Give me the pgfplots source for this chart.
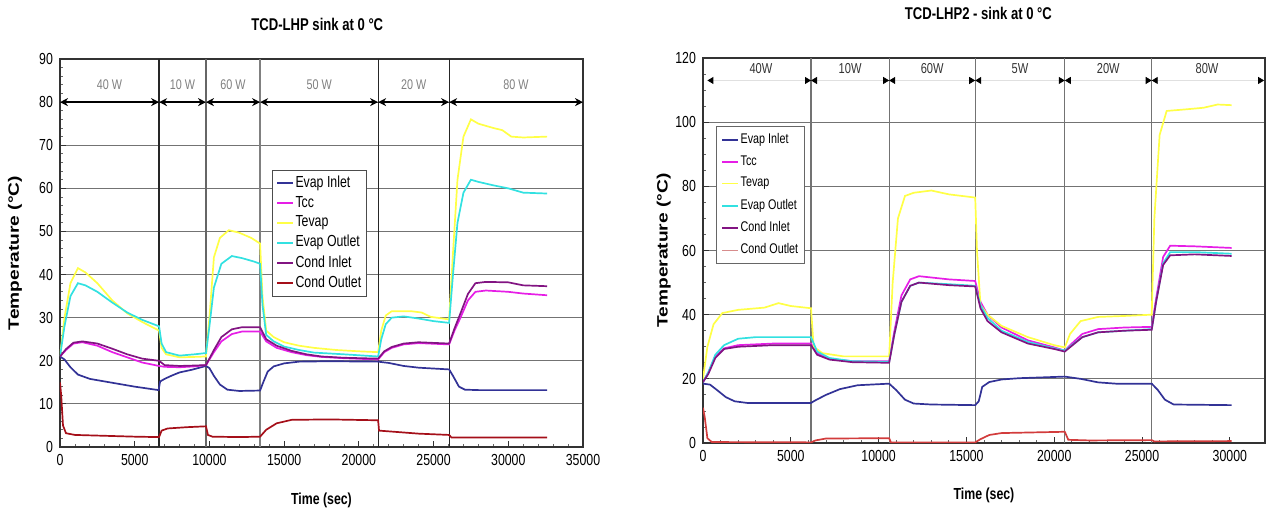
\documentclass[border=0pt]{standalone}
\usepackage{pgfplots}
\pgfplotsset{compat=1.18}
\usepackage{graphicx}
\usepackage{fontspec}
\setmainfont{Liberation Sans}
\usetikzlibrary{arrows.meta}
\newcommand{\cx}[1]{\scalebox{0.77}[1]{#1}}
\definecolor{cEI}{RGB}{50,50,150}
\definecolor{cTcc}{RGB}{230,30,230}
\definecolor{cTev}{RGB}{255,255,70}
\definecolor{cEO}{RGB}{50,225,225}
\definecolor{cCI}{RGB}{130,20,130}
\definecolor{cCO}{RGB}{165,15,25}
\definecolor{cCOb}{RGB}{210,60,60}
\definecolor{cCOleg}{RGB}{215,140,140}

\pgfplotsset{
  every axis title shift=0pt,
  common/.style={
    scale only axis,
    tick align=inside, tick pos=left,
    xmin=0, ymin=0,
    scaled x ticks=false, scaled y ticks=false,
    /pgf/number format/assume math mode=true,
    /pgf/number format/1000 sep={},
    xticklabel={\cx{\pgfmathprintnumber{\tick}}},
    yticklabel={\cx{\pgfmathprintnumber{\tick}}},
    tick label style={font=\fontsize{8}{9}\selectfont},
    ymajorgrids, major grid style={black!55, line width=0.6pt},
    minor x tick num=4,
    major tick length=3pt, minor tick length=1.5pt,
    every tick/.style={black!80, line width=0.5pt},
    every minor tick/.style={black!60, line width=0.4pt},
    axis line style={black!80, line width=0.6pt},
    every axis plot/.append style={line width=0.85pt},
    legend cell align=left,
    legend image code/.code={\draw[#1] (0pt,0pt) -- (8pt,0pt);},
    xlabel style={font=\bfseries\fontsize{8}{9}\selectfont},
    ylabel style={font=\bfseries\fontsize{7.5}{9}\selectfont},
    title style={font=\bfseries\fontsize{8.5}{10}\selectfont},
  }
}

\begin{document}
\begin{tikzpicture}
\useasboundingbox (0,0) rectangle (635pt,255.5pt);

% ---------------- LEFT CHART ----------------
\begin{axis}[common,
  at={(30pt,32pt)}, anchor=south west,
  width=261.5pt, height=194pt,
  xmax=35000, ymax=90,
  xtick={0,5000,...,35000}, ytick={0,10,...,90},
  minor y tick num=4,
  xlabel={\cx{Time (sec)}},
  xlabel style={at={(axis description cs:0.5,-0.137)}, anchor=center},
  ylabel={\scalebox{1.28}[1]{Temperature (°C)}},
  ylabel style={at={(axis description cs:-0.086,0.5)}, anchor=center},
  title={\cx{TCD-LHP sink at 0 °C}},
  title style={at={(axis description cs:0.492,1.09)}, anchor=center},
  legend style={at={(0.405,0.714)}, anchor=north west, draw=black!70, line width=0.4pt,
    font=\fontsize{8}{9}\selectfont, row sep=1.2pt, inner sep=2pt,
    nodes={inner sep=0.8pt}},
]
\draw[black!85, line width=0.6pt] (axis cs:6630,0) -- (axis cs:6630,90);
\draw[black!60, line width=0.6pt] (axis cs:9770,0) -- (axis cs:9770,90);
\draw[black!50, line width=0.6pt] (axis cs:13390,0) -- (axis cs:13390,90);
\draw[black!85, line width=0.6pt] (axis cs:21290,0) -- (axis cs:21290,90);
\draw[black!85, line width=0.6pt] (axis cs:26040,0) -- (axis cs:26040,90);

\addplot[cEI] coordinates {(0,21)(300,20.3)(700,18.5)(1200,16.8)(2000,15.8)(3000,15.2)(4000,14.6)(5000,14.0)(6000,13.5)(6600,13.2)(6700,15.2)(7000,15.8)(7500,16.6)(8000,17.3)(8800,17.9)(9770,18.8)(10000,18.3)(10300,16.5)(10700,14.5)(11200,13.3)(12000,13.0)(13390,13.1)(13600,15)(13900,17.5)(14300,18.7)(15000,19.4)(16000,19.8)(18000,19.9)(21290,19.8)(22000,19.5)(23000,18.8)(24000,18.4)(26040,18.0)(26300,16.5)(26700,14)(27100,13.3)(28000,13.2)(32600,13.2)};
\addlegendentry{\cx{Evap Inlet}}
\addplot[cTcc] coordinates {(0,21)(400,22.5)(900,24)(1500,24.3)(2500,23.5)(3500,22)(4500,20.8)(5500,19.6)(6630,18.8)(7000,18.6)(8000,18.5)(9000,18.7)(9770,19)(10300,22)(10800,24.5)(11500,26.2)(12200,26.8)(13390,26.8)(13800,24.5)(14500,23)(15500,22)(16500,21.3)(17500,20.9)(19000,20.6)(21290,20.3)(21700,22)(22200,23)(23000,23.8)(24000,24.1)(26040,23.8)(26400,27)(26800,30)(27300,34)(27800,36)(28500,36.3)(30000,36)(31000,35.6)(32600,35.2)};
\addlegendentry{\cx{Tcc}}
\addplot[cTev] coordinates {(0,21)(300,30)(700,38)(1200,41.5)(1700,40.5)(2500,38)(3500,34)(4500,31)(5500,29)(6630,27)(6800,23)(7100,21.5)(8000,20.8)(9000,20.9)(9770,21)(10000,30)(10300,44)(10700,48.5)(11300,50.3)(12000,49.7)(12800,48.5)(13390,47.2)(13550,35)(13800,27)(14300,25.5)(15000,24.3)(16000,23.5)(17000,23)(18500,22.5)(20000,22.2)(21290,22)(21500,27)(21800,30.5)(22200,31.5)(23500,31.5)(24200,31.2)(24800,30.2)(26040,29.6)(26300,45)(26600,62)(27000,72)(27500,76)(28000,75)(29000,74)(29600,73.5)(30200,72)(31000,71.8)(32600,72)};
\addlegendentry{\cx{Tevap}}
\addplot[cEO] coordinates {(0,21)(300,28)(700,35)(1200,38)(1700,37.5)(2500,36)(3500,33.5)(4500,31.2)(5500,29.5)(6630,28)(6800,24)(7100,22)(8000,21.2)(9000,21.5)(9770,21.8)(10000,28)(10300,37)(10800,42.5)(11500,44.3)(12200,43.8)(13000,43)(13390,42.5)(13550,33)(13800,26)(14300,24.5)(15000,23.3)(16000,22.5)(17000,21.9)(19000,21.5)(21290,21)(21500,25)(21800,28.5)(22200,30)(23000,30.3)(24000,29.8)(25000,29.2)(26040,28.8)(26300,40)(26600,52)(27000,59)(27500,62)(28000,61.5)(29000,60.7)(30000,60)(31000,59)(32600,58.8)};
\addlegendentry{\cx{Evap Outlet}}
\addplot[cCI] coordinates {(0,21)(400,22.7)(900,24.2)(1500,24.5)(2500,24)(3500,22.8)(4500,21.5)(5500,20.5)(6630,20)(7000,19)(8000,18.8)(9000,18.9)(9770,19)(10300,22.5)(10800,25.5)(11500,27.3)(12200,27.8)(13390,27.8)(13800,25)(14500,23.5)(15500,22.3)(16500,21.5)(17500,21)(19000,20.7)(21290,20.5)(21700,22.2)(22200,23.2)(23000,24)(24000,24.3)(26040,24)(26400,27.5)(26800,31)(27300,35.5)(27800,38)(28500,38.3)(30000,38.2)(31000,37.5)(32600,37.3)};
\addlegendentry{\cx{Cond Inlet}}
\addplot[cCO] coordinates {(0,15)(80,12)(200,5)(400,3.2)(1000,2.8)(3000,2.6)(5000,2.4)(6630,2.3)(6800,3.8)(7200,4.3)(8500,4.6)(9770,4.8)(9900,2.8)(10200,2.4)(12000,2.3)(13390,2.4)(13800,4)(14500,5.5)(15500,6.3)(18000,6.4)(21290,6.2)(21350,3.8)(22500,3.5)(24000,3.1)(26040,2.8)(26200,2.2)(32600,2.2)};
\addlegendentry{\cx{Cond Outlet}}

\draw[{Stealth[length=4pt,width=4pt]}-{Stealth[length=4pt,width=4pt]}, line width=1.3pt] (axis cs:0,80) -- (axis cs:6630,80);
\draw[{Stealth[length=4pt,width=4pt]}-{Stealth[length=4pt,width=4pt]}, line width=1.3pt] (axis cs:6630,80) -- (axis cs:9770,80);
\draw[{Stealth[length=4pt,width=4pt]}-{Stealth[length=4pt,width=4pt]}, line width=1.3pt] (axis cs:9770,80) -- (axis cs:13390,80);
\draw[{Stealth[length=4pt,width=4pt]}-{Stealth[length=4pt,width=4pt]}, line width=1.3pt] (axis cs:13390,80) -- (axis cs:21290,80);
\draw[{Stealth[length=4pt,width=4pt]}-{Stealth[length=4pt,width=4pt]}, line width=1.3pt] (axis cs:21290,80) -- (axis cs:26040,80);
\draw[{Stealth[length=4pt,width=4pt]}-{Stealth[length=4pt,width=4pt]}, line width=1.3pt] (axis cs:26040,80) -- (axis cs:35000,80);
\node[text=black!50, font=\fontsize{7}{8}\selectfont] at (axis cs:3315,84) {\cx{40 W}};
\node[text=black!50, font=\fontsize{7}{8}\selectfont] at (axis cs:8200,84) {\cx{10 W}};
\node[text=black!50, font=\fontsize{7}{8}\selectfont] at (axis cs:11580,84) {\cx{60 W}};
\node[text=black!50, font=\fontsize{7}{8}\selectfont] at (axis cs:17340,84) {\cx{50 W}};
\node[text=black!50, font=\fontsize{7}{8}\selectfont] at (axis cs:23665,84) {\cx{20 W}};
\node[text=black!50, font=\fontsize{7}{8}\selectfont] at (axis cs:30520,84) {\cx{80 W}};
\end{axis}

% ---------------- RIGHT CHART ----------------
\begin{axis}[common,
  at={(351.5pt,34pt)}, anchor=south west,
  width=281pt, height=192.5pt,
  xmax=32000, ymax=120,
  xtick={0,5000,...,30000}, ytick={0,20,...,120},
  minor y tick num=3,
  xlabel={\cx{Time (sec)}},
  xlabel style={at={(axis description cs:0.5,-0.135)}, anchor=center},
  ylabel={\scalebox{1.28}[1]{Temperature (°C)}},
  ylabel style={at={(axis description cs:-0.07,0.5)}, anchor=center},
  title={\cx{TCD-LHP2 - sink at 0 °C}},
  title style={at={(axis description cs:0.49,1.115)}, anchor=center},
  legend style={at={(0.023,0.823)}, anchor=north west, draw=black!60, line width=0.4pt,
    font=\fontsize{7}{8}\selectfont, row sep=3pt, inner sep=2.5pt,
    nodes={inner sep=0.8pt}},
]
\draw[black!55, line width=0.6pt] (axis cs:6150,0) -- (axis cs:6150,120);
\draw[black!55, line width=0.6pt] (axis cs:10600,0) -- (axis cs:10600,120);
\draw[black!55, line width=0.6pt] (axis cs:15500,0) -- (axis cs:15500,120);
\draw[black!55, line width=0.6pt] (axis cs:20600,0) -- (axis cs:20600,120);
\draw[black!55, line width=0.6pt] (axis cs:25550,0) -- (axis cs:25550,120);

\addplot[cEI] coordinates {(0,18.5)(400,18.2)(800,16.5)(1300,14.3)(1800,13)(2500,12.5)(6150,12.5)(6400,13.3)(7000,15)(7800,16.8)(8800,18)(10600,18.5)(11000,16.5)(11500,13.5)(12000,12.3)(13000,12)(15500,11.8)(15700,13)(15900,17.5)(16300,19)(17000,19.8)(18000,20.2)(20600,20.7)(21500,20)(22500,18.9)(23500,18.5)(25550,18.5)(25900,16.5)(26300,13.5)(26800,12)(30100,11.8)};
\addlegendentry{\cx{Evap Inlet}}
\addplot[cTcc] coordinates {(0,19)(300,22)(700,27)(1200,29.5)(2000,30.5)(4000,31)(6150,31)(6500,28)(7200,26.2)(8500,25.5)(10600,25.5)(10900,35)(11300,46)(11800,51)(12300,52)(14000,51)(15500,50.5)(15800,44)(16200,40)(17000,36)(18500,32)(20000,29.8)(20600,28.8)(21000,31)(21600,34)(22500,35.5)(24000,36)(25550,36.2)(25800,45)(26200,58)(26600,61.5)(28000,61.3)(30100,60.8)};
\addlegendentry{\cx{Tcc}}
\addplot[cTev] coordinates {(0,20)(250,30)(600,37)(1100,40.5)(2000,41.5)(3500,42.2)(4300,43.6)(5000,42.7)(6150,42)(6300,30)(6800,28)(8000,27)(10600,27)(10800,50)(11100,70)(11500,77)(12000,78)(13000,78.7)(14000,77.5)(15500,76.5)(15600,60)(15800,43)(16200,40)(17000,36.5)(18500,33)(20000,30.5)(20600,29.8)(20900,34)(21500,38)(22500,39.3)(24000,39.6)(25550,40)(25700,70)(26000,96)(26400,103.5)(27500,104)(28500,104.5)(29300,105.5)(30100,105.3)};
\addlegendentry{\cx{Tevap}}
\addplot[cEO] coordinates {(0,19)(300,22)(700,27.5)(1200,30.5)(2000,32.5)(3000,33)(6150,33)(6500,28.5)(7200,26.5)(8500,25.5)(10600,25.3)(10900,34)(11300,44)(11800,49)(12300,50)(14000,49.5)(15500,49)(15800,43)(16200,39)(17000,35)(18500,31.5)(20000,29.5)(20600,28.8)(21000,30.5)(21600,33)(22500,34.5)(24000,35)(25550,35.5)(25800,44)(26200,56)(26600,59.5)(28000,59.5)(30100,59)};
\addlegendentry{\cx{Evap Outlet}}
\addplot[cCI] coordinates {(0,19)(300,21.5)(700,26.5)(1200,29.3)(2000,30)(4000,30.5)(6150,30.5)(6500,27.5)(7200,26)(8500,25.2)(10600,25)(10900,34)(11300,44)(11800,49)(12300,50)(14000,49.2)(15500,48.8)(15800,42)(16200,38)(17000,34.5)(18500,31)(20000,29.3)(20600,28.5)(21000,30.3)(21600,33)(22500,34.5)(24000,35)(25550,35.3)(25800,44)(26200,55.5)(26600,58.5)(28000,58.8)(30100,58.3)};
\addlegendentry{\cx{Cond Inlet}}
\addplot[cCOb, legend image code/.code={\draw[cCOleg, line width=0.85pt] (0pt,0pt) -- (8pt,0pt);}] coordinates {(0,11)(100,8)(250,1.5)(500,0.3)(6150,0.2)(6400,0.8)(7000,1.4)(10600,1.5)(10700,0.2)(15500,0.2)(15800,1.2)(16300,2.5)(17000,3.1)(20600,3.5)(20800,1)(22000,0.8)(25550,0.9)(25700,0.5)(30100,0.6)};
\addlegendentry{\cx{Cond Outlet}}

\draw[{Triangle[length=3pt,width=3.5pt,color=black]}-{Triangle[length=3pt,width=3.5pt,color=black]}, black!12, line width=0.4pt] (axis cs:250,113) -- (axis cs:6150,113);
\draw[{Triangle[length=3pt,width=3.5pt,color=black]}-{Triangle[length=3pt,width=3.5pt,color=black]}, black!12, line width=0.4pt] (axis cs:6150,113) -- (axis cs:10600,113);
\draw[{Triangle[length=3pt,width=3.5pt,color=black]}-{Triangle[length=3pt,width=3.5pt,color=black]}, black!12, line width=0.4pt] (axis cs:10600,113) -- (axis cs:15500,113);
\draw[{Triangle[length=3pt,width=3.5pt,color=black]}-{Triangle[length=3pt,width=3.5pt,color=black]}, black!12, line width=0.4pt] (axis cs:15500,113) -- (axis cs:20600,113);
\draw[{Triangle[length=3pt,width=3.5pt,color=black]}-{Triangle[length=3pt,width=3.5pt,color=black]}, black!12, line width=0.4pt] (axis cs:20600,113) -- (axis cs:25550,113);
\draw[{Triangle[length=3pt,width=3.5pt,color=black]}-{Triangle[length=3pt,width=3.5pt,color=black]}, black!12, line width=0.4pt] (axis cs:25550,113) -- (axis cs:31950,113);
\node[text=black!80, font=\fontsize{7.2}{8}\selectfont] at (axis cs:3300,116.6) {\cx{40W}};
\node[text=black!80, font=\fontsize{7.2}{8}\selectfont] at (axis cs:8375,116.6) {\cx{10W}};
\node[text=black!80, font=\fontsize{7.2}{8}\selectfont] at (axis cs:13050,116.6) {\cx{60W}};
\node[text=black!80, font=\fontsize{7.2}{8}\selectfont] at (axis cs:18050,116.6) {\cx{5W}};
\node[text=black!80, font=\fontsize{7.2}{8}\selectfont] at (axis cs:23075,116.6) {\cx{20W}};
\node[text=black!80, font=\fontsize{7.2}{8}\selectfont] at (axis cs:28700,116.6) {\cx{80W}};
\end{axis}
\end{tikzpicture}
\end{document}
